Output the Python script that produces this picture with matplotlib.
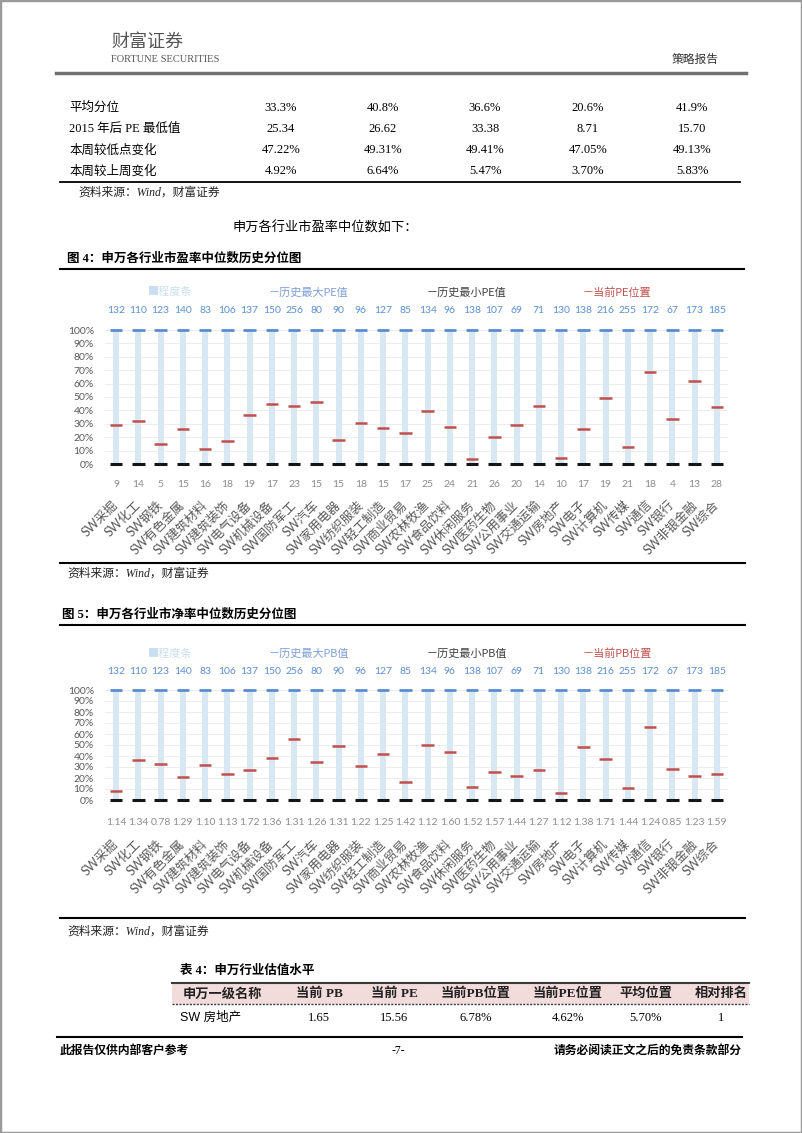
import matplotlib
matplotlib.use("Agg")
import matplotlib.pyplot as plt
import numpy as np
from matplotlib.lines import Line2D
from matplotlib.patches import Rectangle

# ---- data ----
categories = ["SW采掘", "SW化工", "SW钢铁", "SW有色金属", "SW建筑材料", "SW建筑装饰", "SW电气设备",
              "SW机械设备", "SW国防军工", "SW汽车", "SW家用电器", "SW纺织服装", "SW轻工制造", "SW商业贸易",
              "SW农林牧渔", "SW食品饮料", "SW休闲服务", "SW医药生物", "SW公用事业", "SW交通运输", "SW房地产",
              "SW电子", "SW计算机", "SW传媒", "SW通信", "SW银行", "SW非银金融", "SW综合"]

pe_max = [132, 110, 123, 140, 83, 106, 137, 150, 256, 80, 90, 96, 127, 85,
          134, 96, 138, 107, 69, 71, 130, 138, 216, 255, 172, 67, 173, 185]
pe_min = [9, 14, 5, 15, 16, 18, 19, 17, 23, 15, 15, 18, 15, 17,
          25, 24, 21, 26, 20, 14, 10, 17, 19, 21, 18, 4, 13, 28]
pe_pos = [29.2, 32.2, 14.7, 26.2, 11.0, 17.2, 36.7, 45.1, 43.4, 46.6, 18.0, 30.7, 27.2, 22.9,
          39.2, 27.7, 3.5, 20.2, 29.2, 43.4, 4.62, 26.2, 48.9, 12.5, 68.3, 33.9, 61.6, 42.9]

pb_top = [132, 110, 123, 140, 83, 106, 137, 150, 256, 80, 90, 96, 127, 85,
          134, 96, 138, 107, 69, 71, 130, 138, 216, 255, 172, 67, 173, 185]
pb_min = [1.14, 1.34, 0.78, 1.29, 1.10, 1.13, 1.72, 1.36, 1.31, 1.26, 1.31, 1.22, 1.25, 1.42,
          1.12, 1.60, 1.52, 1.57, 1.44, 1.27, 1.12, 1.38, 1.71, 1.44, 1.24, 0.85, 1.23, 1.59]
pb_pos = [8.2, 36.5, 32.8, 21.0, 31.9, 23.7, 27.4, 38.3, 55.9, 35.0, 49.2, 31.0, 42.2, 16.1,
          50.2, 43.2, 11.9, 25.5, 21.9, 27.4, 6.78, 48.3, 37.4, 10.9, 66.0, 28.3, 21.9, 23.7]

tbl_rows = ["平均分位", "2015 年后 PE 最低值", "本周较低点变化", "本周较上周变化"]
tbl_vals = [["33.3%", "40.8%", "36.6%", "20.6%", "41.9%"],
            ["25.34", "26.62", "33.38", "8.71", "15.70"],
            ["47.22%", "49.31%", "49.41%", "47.05%", "49.13%"],
            ["4.92%", "6.64%", "5.47%", "3.70%", "5.83%"]]

t4_head = ["申万一级名称", "当前 PB", "当前 PE", "当前PB位置", "当前PE位置", "平均位置", "相对排名"]
t4_row = ["SW 房地产", "1.65", "15.56", "6.78%", "4.62%", "5.70%", "1"]

# ---- page layout (pixel helpers) ----
W, H = 802, 1133
CJK = "Noto Sans CJK SC"
SERIF = ["Liberation Serif", CJK]
SANS = ["Lato", CJK]
plt.rcParams["font.family"] = SANS

fig = plt.figure(figsize=(8.02, 11.33), dpi=100)
fig.patch.set_facecolor("white")


def fx(x):
    return x / W


def fy(y):
    return 1 - y / H


def put(x, y, s, size=9, ha="left", va="center", family=SERIF, **kw):
    fig.text(fx(x), fy(y), s, fontsize=size, ha=ha, va=va, family=family, **kw)


def hline(x0, x1, y, color="black", lw=1.2, **kw):
    fig.add_artist(Line2D([fx(x0), fx(x1)], [fy(y), fy(y)], transform=fig.transFigure,
                          color=color, lw=lw, **kw))


# border of the page
fig.add_artist(Rectangle((0, 0), 1, 1, transform=fig.transFigure, fill=False,
                         ec="#9a9a9a", lw=2.5))

# header
put(111, 42, "财富证券", size=13, color="#555555", family=SERIF, style="italic")
put(111, 59, "FORTUNE SECURITIES", size=7.5, color="#555555", family=SERIF)
put(719, 60, "策略报告", size=8.5, ha="right", color="#333333")
hline(56, 746, 73, color="#707070", lw=2.5)

# top table (continued)
col_x = [281, 383, 485, 588, 692]
for r, (lab, vals) in enumerate(zip(tbl_rows, tbl_vals)):
    y = 108 + r * 21
    put(69, y, lab, size=9)
    for cx, v in zip(col_x, vals):
        put(cx, y, v, size=9, ha="center")
hline(60, 740, 182, lw=1.3)
put(78, 193, "资料来源：Wind，财富证券", size=8.5, style="italic", color="#222222")

put(232, 228, "申万各行业市盈率中位数如下：", size=9.5)


def draw_chart(top, bottom, top_labels, bottom_labels, current, kind, legend_y,
               top_gap, bottom_gap, label_pad):
    ax = fig.add_axes([fx(105), fy(bottom), fx(728) - fx(105), fy(top) - fy(bottom)])
    x = np.arange(len(categories))
    ax.bar(x, np.ones(len(x)), width=0.27, color="#d7e8f3", zorder=2)
    ax.hlines(np.ones(len(x)), x - 0.28, x + 0.28, color="#5b8bd0", lw=2, zorder=3, clip_on=False)
    ax.hlines(np.zeros(len(x)), x - 0.28, x + 0.28, color="#151515", lw=2.2, zorder=3, clip_on=False)
    ax.hlines(np.array(current) / 100, x - 0.28, x + 0.28, color="#c0504d", lw=1.8, zorder=4)
    ax.set_xlim(-0.5, len(x) - 0.5)
    ax.set_ylim(0, 1)
    ax.set_yticks(np.linspace(0, 1, 11))
    ax.set_yticklabels([f"{v}%" for v in range(0, 101, 10)], fontsize=7.5, color="#595959")
    ax.yaxis.grid(True, color="#ececec", lw=0.7)
    ax.set_axisbelow(True)
    for s in ax.spines.values():
        s.set_visible(False)
    ax.tick_params(axis="y", length=0, pad=8)
    ax.set_xticks(x)
    ax.set_xticklabels(categories, rotation=45, ha="right", va="center",
                       rotation_mode="anchor", fontsize=9, color="#595959")
    ax.tick_params(axis="x", length=0, pad=label_pad)
    for i, v in enumerate(top_labels):
        ax.annotate(str(v), (i, 1), xycoords=("data", "axes fraction"), xytext=(0, top_gap),
                    textcoords="offset points", ha="center", va="center", fontsize=7.5,
                    color="#5b8fd0")
    for i, v in enumerate(bottom_labels):
        s = f"{v:.2f}" if isinstance(v, float) else str(v)
        ax.annotate(s, (i, 0), xycoords=("data", "axes fraction"), xytext=(0, -bottom_gap),
                    textcoords="offset points", ha="center", va="center", fontsize=7.5,
                    color="#8c8c8c")
    # legend
    put(148, legend_y, "■程度条", size=8, family=SANS, color="#c9def0")
    put(269, legend_y, f"－历史最大{kind}值", size=8, family=SANS, color="#7f9fd6")
    put(427, legend_y, f"－历史最小{kind}值", size=8, family=SANS, color="#404040")
    put(583, legend_y, f"－当前{kind}位置", size=8, family=SANS, color="#c0504d")
    return ax


# figure 4
put(67, 259, "图 4：申万各行业市盈率中位数历史分位图", size=9, weight="bold")
hline(60, 744, 269, lw=1.5)
draw_chart(330, 464, pe_max, pe_min, pe_pos, "PE", 292, 14, 14.5, 28)
hline(60, 745, 563, lw=1.5)
put(67, 574, "资料来源：Wind，财富证券", size=8.5, style="italic", color="#222222")

# figure 5
put(62, 615, "图 5：申万各行业市净率中位数历史分位图", size=9, weight="bold")
hline(60, 745, 625, lw=1.5)
draw_chart(690, 800, pb_top, pb_min, pb_pos, "PB", 653, 13, 16, 30)
hline(60, 745, 918, lw=1.5)
put(67, 932, "资料来源：Wind，财富证券", size=8.5, style="italic", color="#222222")

# table 4
put(180, 971, "表 4：申万行业估值水平", size=9, weight="bold")
fig.add_artist(Rectangle((fx(172), fy(1004)), fx(749) - fx(172), fy(983) - fy(1004),
                         transform=fig.transFigure, color="#f2dcdb", lw=0))
hline(172, 749, 983, color="#3a3a3a", lw=1.5)
hline(172, 749, 1004, color="#3a3a3a", lw=1.0, ls=(0, (1.5, 1)))
t4_x = [222, 319, 394, 476, 568, 646, 721]
for cx, s in zip(t4_x, t4_head):
    put(cx, 994, s, size=9.5, ha="center", weight="bold", color="#222222")
put(180, 1018, t4_row[0], size=9, family=["Liberation Sans", CJK])
for cx, s in zip(t4_x[1:], t4_row[1:]):
    put(cx, 1018, s, size=9, ha="center")

# footer
hline(57, 742, 1037, lw=1.5)
put(60, 1051, "此报告仅供内部客户参考", size=8.5, weight="bold")
put(398, 1051, "-7-", size=8.5, ha="center")
put(742, 1051, "请务必阅读正文之后的免责条款部分", size=8.5, ha="right", weight="bold")

fig.savefig("out.png", dpi=100)
